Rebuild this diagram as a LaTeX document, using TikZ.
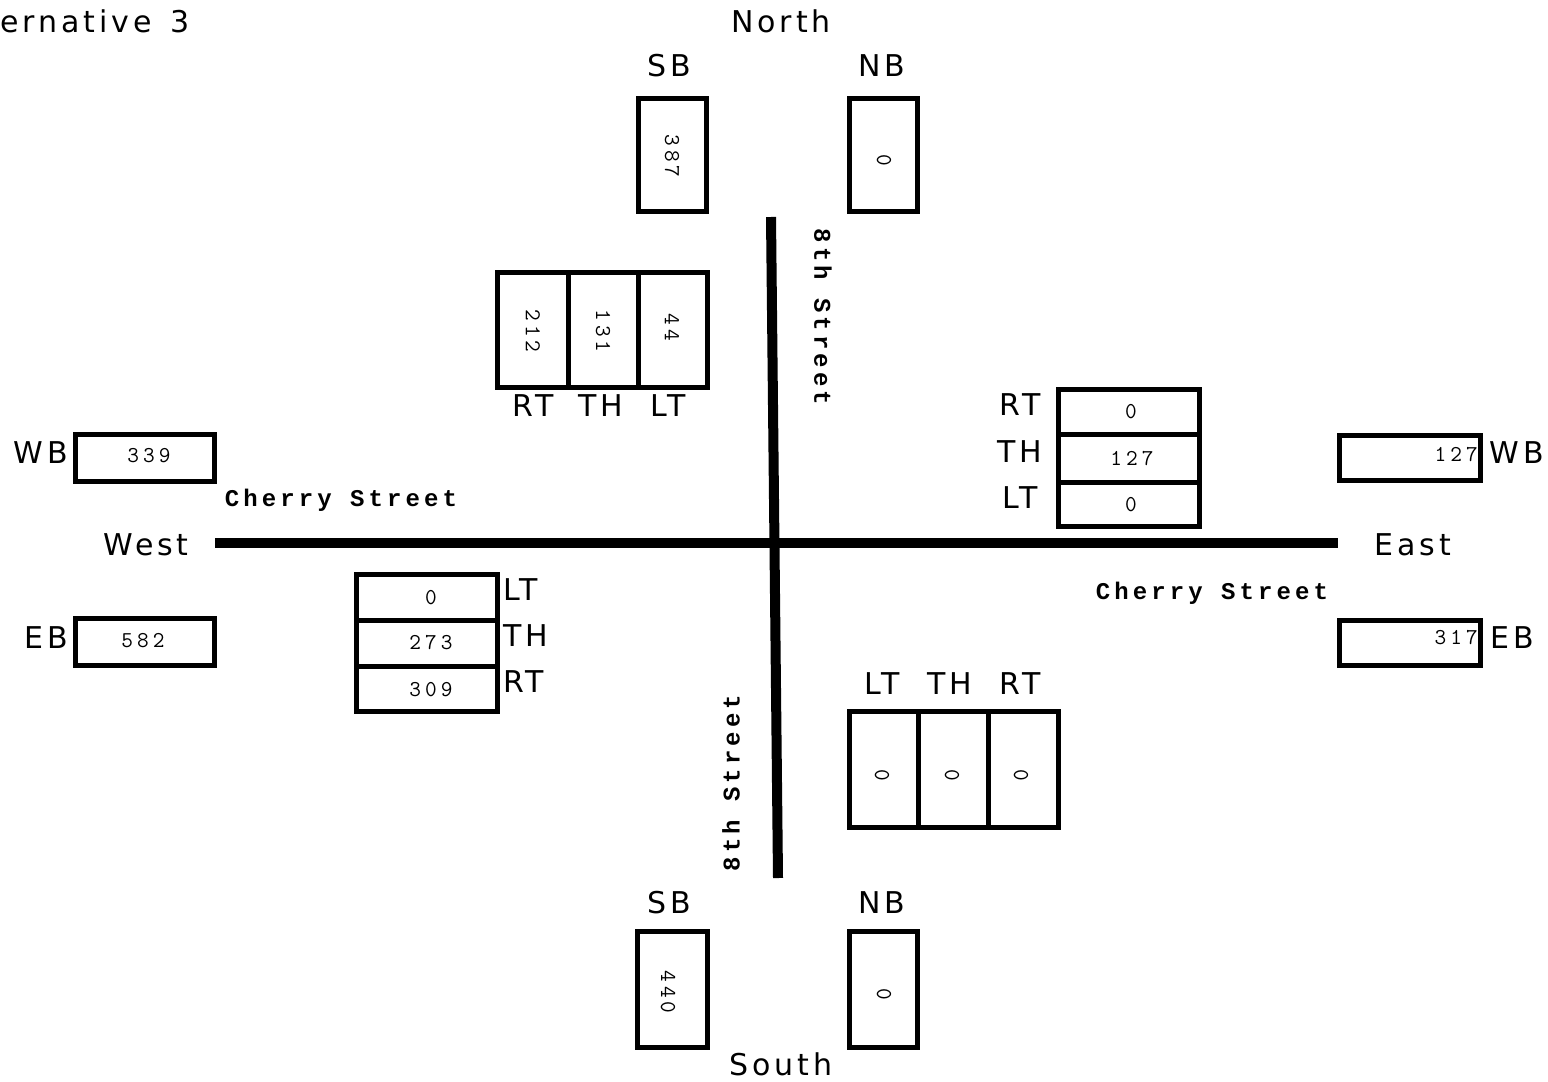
\documentclass[tikz,border=0pt]{standalone}
\usepackage{fontspec}
\newfontfamily\labfont[LetterSpace=13]{DejaVu Sans}
\newfontfamily\numfont[LetterSpace=18]{Latin Modern Mono}
\newfontfamily\strfont[LetterSpace=17]{Liberation Mono}
\begin{document}
\begin{tikzpicture}[x=0.75pt,y=-0.75pt,
  box/.style={line width=3.75pt},
  road/.style={line width=7.5pt},
  lab/.style={font=\labfont\fontsize{22.5}{22.5}\selectfont, inner sep=0pt, anchor=base},
  labw/.style={lab, anchor=base west},
  num/.style={font=\numfont\fontsize{17}{17}\selectfont, inner sep=0pt},
  numr/.style={num, anchor=east},
  street/.style={font=\strfont\bfseries\fontsize{18}{18}\selectfont, inner sep=0pt}]
\useasboundingbox (0,0) rectangle (1548,1081);

% roads
\coordinate (wend) at (215,543);
\coordinate (eend) at (1338,543);
\coordinate (nend) at (771,217);
\coordinate (send) at (778,878);
\draw[road] (wend) -- (eend);
\draw[road] (nend) -- (send);

% boxes
\draw[box] (638.5,98.5) rectangle (706.5,211.5);
\draw[box] (849.5,98.5) rectangle (917.5,211.5);
\draw[box] (497.5,272.5) rectangle (707.5,387.5);
\draw[box] (568,272.5) -- (568,387.5) (638,272.5) -- (638,387.5);
\draw[box] (75.5,434.5) rectangle (214.5,481.5);
\draw[box] (75.5,618.5) rectangle (214.5,665.5);
\draw[box] (1339.5,435.5) rectangle (1480.5,480.5);
\draw[box] (1339.5,620.5) rectangle (1480.5,665.5);
\draw[box] (1058.5,389.5) rectangle (1199.5,526.5);
\draw[box] (1058.5,434) -- (1199.5,434) (1058.5,482) -- (1199.5,482);
\draw[box] (356.5,574.5) rectangle (497.5,711.5);
\draw[box] (356.5,620) -- (497.5,620) (356.5,666) -- (497.5,666);
\draw[box] (849.5,711.5) rectangle (1058.5,827.5);
\draw[box] (918,711.5) -- (918,827.5) (988,711.5) -- (988,827.5);
\draw[box] (637.5,931.5) rectangle (707.5,1047.5);
\draw[box] (849.5,931.5) rectangle (917.5,1047.5);

% labels
\node[labw] (title) at (0,33) {ernative \hspace{4pt}3};
\node[lab] (north) at (781,33) {North};
\node[lab] (south) at (781,1075) {South};
\node[lab] (west) at (146,555) {West};
\node[lab] (east) at (1413,555) {East};
\node[lab] (sbn) at (669,77) {SB};
\node[lab] (nbn) at (882,77) {NB};
\node[lab] (sbs) at (669,913) {SB};
\node[lab] (nbs) at (882,913) {NB};
\node[lab] (wbw) at (41,463) {WB};
\node[lab] (ebw) at (46,648) {EB};
\node[lab] (wbe) at (1517,463) {WB};
\node[lab] (ebe) at (1512,648) {EB};
\node[lab] (nrt) at (533,416) {RT};
\node[lab] (nth) at (601,416) {TH};
\node[lab] (nlt) at (668,416) {LT};
\node[lab] (ert) at (1020,415) {RT};
\node[lab] (eth) at (1020,462) {TH};
\node[lab] (elt) at (1020,508) {LT};
\node[labw] (wlt) at (503,600) {LT};
\node[labw] (wth) at (503,646) {TH};
\node[labw] (wrt) at (503,692) {RT};
\node[lab] (slt) at (882,694) {LT};
\node[lab] (sth) at (950,694) {TH};
\node[lab] (srt) at (1020,694) {RT};

% numbers
\node[num, rotate=-90] (v387) at (672,156) {387};
\node[num, rotate=-90] (v0n) at (884,160) {0};
\node[num, rotate=-90] (v212) at (533,331) {212};
\node[num, rotate=-90] (v131) at (603,331) {131};
\node[num, rotate=-90] (v44) at (672,327) {44};
\node[num] (v339) at (149,456) {339};
\node[num] (v582) at (143,641) {582};
\node[num] (v0e1) at (1131,412) {0};
\node[num] (v127e) at (1132,459) {127};
\node[num] (v0e2) at (1131,505) {0};
\node[numr] (v127) at (1478,455) {127};
\node[numr] (v317) at (1478,638) {317};
\node[num] (v0w) at (431,598) {0};
\node[num] (v273) at (431,643) {273};
\node[num] (v309) at (431,690) {309};
\node[num, rotate=-90] (v0s1) at (882,775) {0};
\node[num, rotate=-90] (v0s2) at (952,775) {0};
\node[num, rotate=-90] (v0s3) at (1021,775) {0};
\node[num, rotate=-90] (v440) at (668,992) {440};
\node[num, rotate=-90] (v0s) at (884,994) {0};

% street names
\node[street] (chw) at (341,500) {Cherry Street};
\node[street] (che) at (1212,593) {Cherry Street};
\node[street, rotate=-90] (sn) at (823,317) {8th Street};
\node[street, rotate=90] (ss) at (731,783) {8th Street};
\end{tikzpicture}
\end{document}
